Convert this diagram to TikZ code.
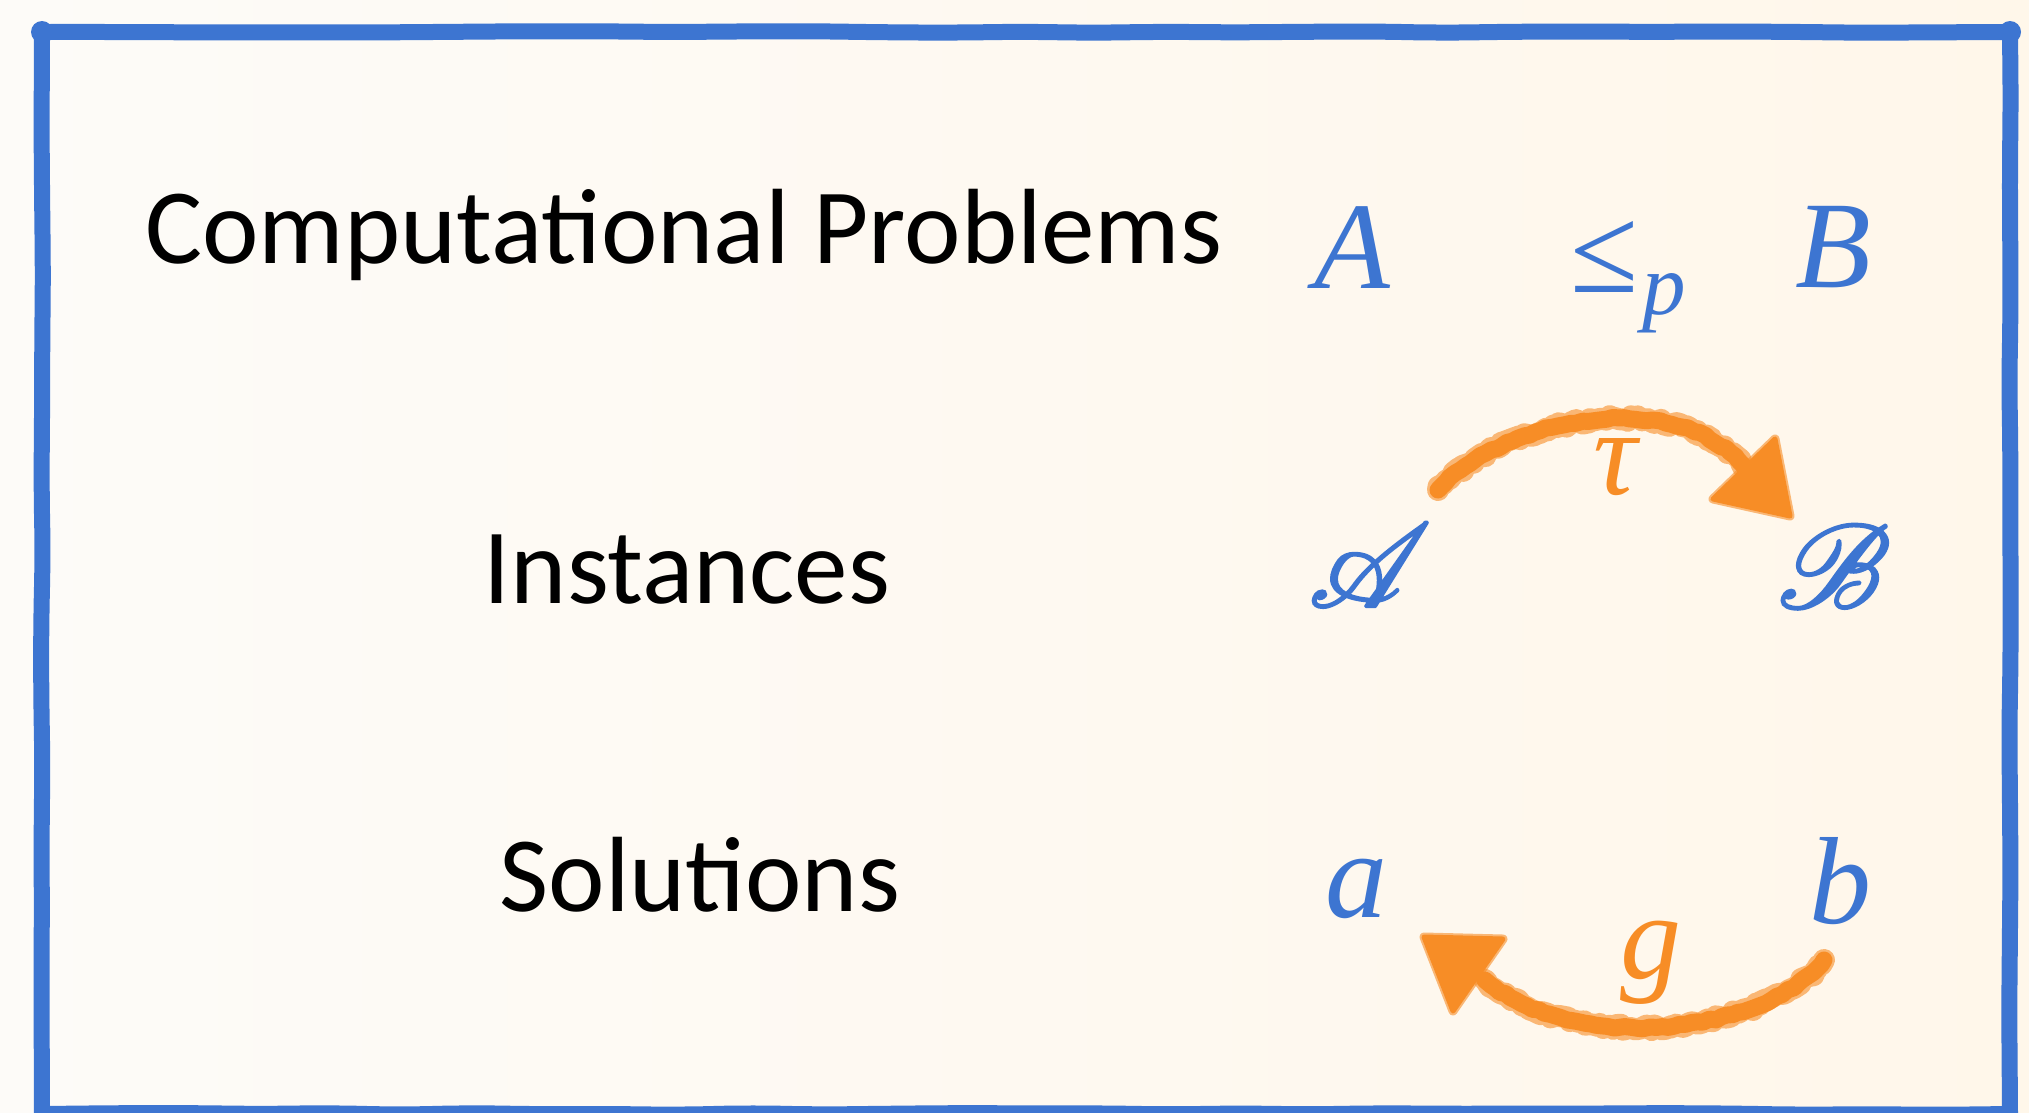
\documentclass[tikz,border=0pt]{standalone}
\usepackage{fontspec}
\setmainfont{Carlito}
\newfontfamily\tmsf{Liberation Serif}
\DeclareFontFamily{U}{rsfsx}{\skewchar\font127 }
\DeclareFontShape{U}{rsfsx}{m}{n}{<-> rsfs10}{}
\DeclareMathAlphabet{\myscr}{U}{rsfsx}{m}{n}
\newcommand{\thickglyph}[1]{\special{pdf:literal direct 2 Tr 2.2 w}#1\special{pdf:literal direct 0 Tr}}
\usetikzlibrary{decorations.pathmorphing}
\definecolor{frameblue}{HTML}{3D75D1}
\definecolor{chalk}{HTML}{F78D26}
\definecolor{bgA}{HTML}{FDFBF8}
\definecolor{bgB}{HTML}{FFF7EA}
\begin{document}
\begin{tikzpicture}[x=1pt,y=-1pt,
  lbl/.style={anchor=base, inner sep=0, font=\fontsize{107}{120}\selectfont},
  sym/.style={anchor=base, inner sep=0, text=frameblue, font=\fontsize{124}{130}\selectfont},
  fnsym/.style={anchor=base, inner sep=0, text=chalk, font=\fontsize{122}{130}\selectfont},
  chalkrough/.style={draw=chalk, draw opacity=0.6, line width=22, line cap=round, line join=round,
     decorate, decoration={random steps, segment length=4, amplitude=2.6}},
  chalkline/.style={draw=chalk, line width=17, line cap=round, line join=round,
     decorate, decoration={random steps, segment length=6, amplitude=1.2}},
  chalkhead/.style={fill=chalk, draw=chalk, line width=5, line join=round},
  chalkheadrough/.style={draw=chalk, draw opacity=0.6, line width=9, line join=round},
  framestyle/.style={draw=frameblue, line width=16, line cap=round, line join=round,
     decorate, decoration={random steps, segment length=70, amplitude=1.0}, rounded corners=30}]
\pgfmathsetseed{11}
\useasboundingbox (0,0) rectangle (2029,1112);
\shade[left color=bgA, right color=bgB] (0,0) rectangle (2029,1112);
\coordinate (fTL) at (42,32);
\coordinate (fTR) at (2010,32);
\coordinate (fBR) at (2010,1114);
\coordinate (fBL) at (42,1114);
\draw[framestyle] (fTL) -- (fTR);
\draw[framestyle] (fTR) -- (fBR);
\draw[framestyle] (fBR) -- (fBL);
\draw[framestyle] (fBL) -- (fTL);
\fill[frameblue] (fTL) circle (11);
\fill[frameblue] (fTR) circle (11);

% row labels
\node[lbl] (cp) at (684,263) {Computational Problems};
\node[lbl] (inst) at (687,603) {Instances};
\node[lbl] (sol) at (700,911) {Solutions};

% problems row
\node[sym] (A) at (1352,288) {\tmsf\itshape A};
\node[sym] (leq) at (1605,292) {\tmsf ≤};
\node[sym, font=\fontsize{87}{95}\selectfont] (p) at (1664,314) {\tmsf\itshape p};
\node[sym] (B) at (1833,287) {\tmsf\itshape B};

% instances row
\node[sym, font=\fontsize{119}{125}\selectfont] (sA) at (1370,607) {\thickglyph{$\myscr{A}$}};
\node[sym, font=\fontsize{119}{125}\selectfont] (sB) at (1834,608) {\thickglyph{$\myscr{B}$}};

% solutions row
\node[sym] (a) at (1356,917) {\tmsf\itshape a};
\node[sym] (b) at (1840,923) {\tmsf\itshape b};

% tau arrow
\coordinate (t1) at (1438,490);
\coordinate (t2) at (1748,472);
\coordinate (tauTip) at (1790,516);
\coordinate (tauL) at (1775,439);
\coordinate (tauR) at (1713,499);
\draw[chalkrough] (t1) .. controls (1500,420) and (1680,380) .. (t2);
\draw[chalkline] (t1) .. controls (1500,420) and (1680,380) .. (t2);
\draw[chalkheadrough] (tauTip) -- (tauL) -- (tauR) -- cycle;
\filldraw[chalkhead] (tauTip) -- (tauL) -- (tauR) -- cycle;
\node[fnsym] (tau) at (1615,494) {\tmsf\itshape τ};

% g arrow
\coordinate (g1) at (1824,960);
\coordinate (g2) at (1485,980);
\coordinate (gTip) at (1424,937);
\coordinate (gL) at (1503,939);
\coordinate (gR) at (1453,1011);
\draw[chalkrough] (g1) .. controls (1770,1030) and (1580,1060) .. (g2);
\draw[chalkline] (g1) .. controls (1770,1030) and (1580,1060) .. (g2);
\draw[chalkheadrough] (gTip) -- (gL) -- (gR) -- cycle;
\filldraw[chalkhead] (gTip) -- (gL) -- (gR) -- cycle;
\node[fnsym] (g) at (1651,978) {\tmsf\itshape g};
\end{tikzpicture}
\end{document}
